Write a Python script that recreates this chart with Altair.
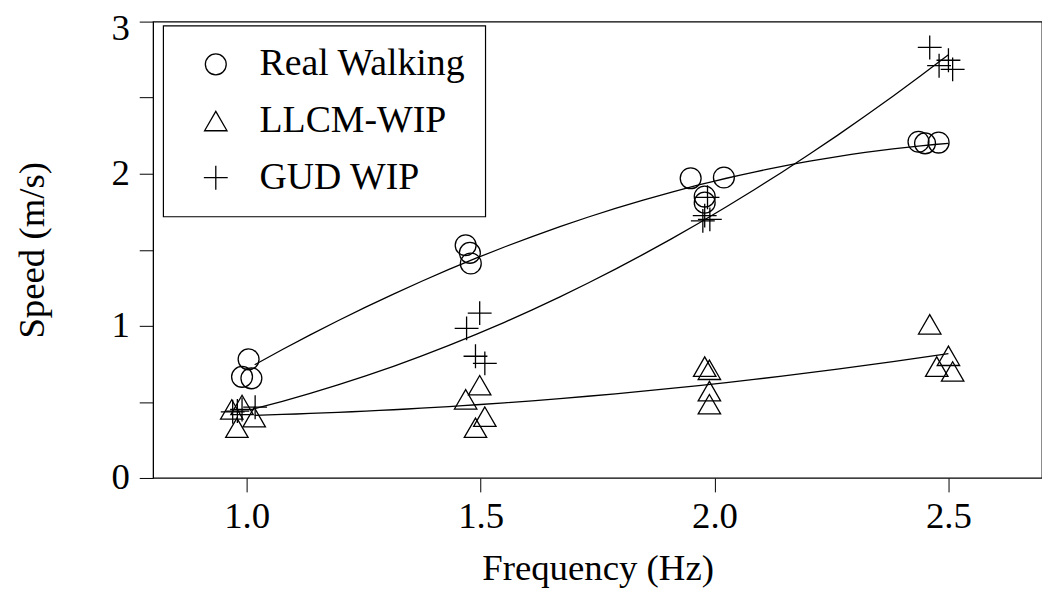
import altair as alt
import pandas as pd

series_names = ["Real Walking", "LLCM-WIP", "GUD WIP"]

rw_freq = [1.004, 0.990, 1.010, 1.468, 1.477, 1.479, 1.949, 2.020, 1.979, 1.979, 2.436, 2.450, 2.479]
rw_speed = [0.78, 0.665, 0.655, 1.53, 1.48, 1.41, 1.97, 1.975, 1.85, 1.81, 2.21, 2.20, 2.205]

llcm_freq = [0.968, 0.990, 1.016, 0.979, 1.498, 1.468, 1.509, 1.489, 1.979, 1.989, 1.989, 1.989, 2.460, 2.500, 2.475, 2.509]
llcm_speed = [0.45, 0.48, 0.40, 0.33, 0.61, 0.517, 0.403, 0.33, 0.732, 0.711, 0.571, 0.485, 1.01, 0.803, 0.732, 0.70]

gud_freq = [0.970, 0.980, 1.018, 0.990, 1.498, 1.470, 1.489, 1.509, 1.985, 1.979, 1.990, 1.975, 2.460, 2.500, 2.480, 2.509]
gud_speed = [0.435, 0.44, 0.465, 0.45, 1.084, 0.983, 0.80, 0.753, 1.845, 1.725, 1.70, 1.69, 2.83, 2.746, 2.71, 2.686]

x_ticks = [1.0, 1.5, 2.0, 2.5]
y_ticks = [0, 0.5, 1, 1.5, 2, 2.5, 3]

rows = []
for name, xs, ys in [(series_names[0], rw_freq, rw_speed),
                     (series_names[1], llcm_freq, llcm_speed),
                     (series_names[2], gud_freq, gud_speed)]:
    rows += [{"series": name, "freq": a, "speed": b} for a, b in zip(xs, ys)]
df = pd.DataFrame(rows)

FONT = "Liberation Serif"
PLUS = "M-1,0L1,0M0,-1L0,1"

xenc = alt.X("freq:Q",
             scale=alt.Scale(domain=[0.8, 2.7], nice=False, zero=False),
             axis=alt.Axis(values=x_ticks, format=".1f", title="Frequency (Hz)",
                           labelPadding=7, titlePadding=16))
yenc = alt.Y("speed:Q",
             scale=alt.Scale(domain=[0, 3], nice=False, zero=False),
             axis=alt.Axis(values=y_ticks,
                           labelExpr="datum.value % 1 === 0 ? format(datum.value, 'd') : ''",
                           labelOffset={"condition": {"test": "datum.value === 3", "value": 7}, "value": 0},
                           title="Speed (m/s)", labelPadding=10, titlePadding=60))

base = alt.Chart(df)

points = base.mark_point(filled=False, color="black", strokeWidth=1.3, opacity=1).encode(
    x=xenc,
    y=yenc,
    shape=alt.Shape("series:N",
                    scale=alt.Scale(domain=series_names, range=["circle", "triangle-up", PLUS]),
                    legend=alt.Legend(title=None)),
    size=alt.Size("series:N",
                  scale=alt.Scale(domain=series_names, range=[441, 576, 729]),
                  legend=alt.Legend(title=None)),
)

lines = base.transform_regression(
    "freq", "speed", groupby=["series"], method="poly", order=2, extent=[1.017, 2.5]
).mark_line(color="black", strokeWidth=1.3).encode(
    x=alt.X("freq:Q"),
    y=alt.Y("speed:Q"),
    detail="series:N",
)

chart = alt.layer(lines, points).properties(
    width=894, height=459,
    padding={"left": 146, "top": 12, "right": 0, "bottom": 110},
    autosize=alt.AutoSizeParams(type="none"),
    background="white",
).configure_view(
    stroke="black", strokeWidth=1.3
).configure_axis(
    labelFont=FONT, labelFontSize=37, labelColor="black",
    titleFont=FONT, titleFontSize=37, titleFontWeight="normal", titleColor="black",
    tickColor="black", tickSize=14, tickWidth=1, domain=False, grid=False,
).configure_legend(
    orient="none", legendX=10, legendY=4,
    strokeColor="black", strokeWidth=1.2, fillColor="white",
    padding=20, rowPadding=19, labelLimit=0,
    labelFont=FONT, labelFontSize=38, labelColor="black",
    symbolStrokeColor="black", symbolStrokeWidth=1.3, symbolFillColor="transparent",
    symbolOffset=14, labelOffset=25,
)

chart.save("out.html", embed_options={"renderer": "svg", "actions": False})
